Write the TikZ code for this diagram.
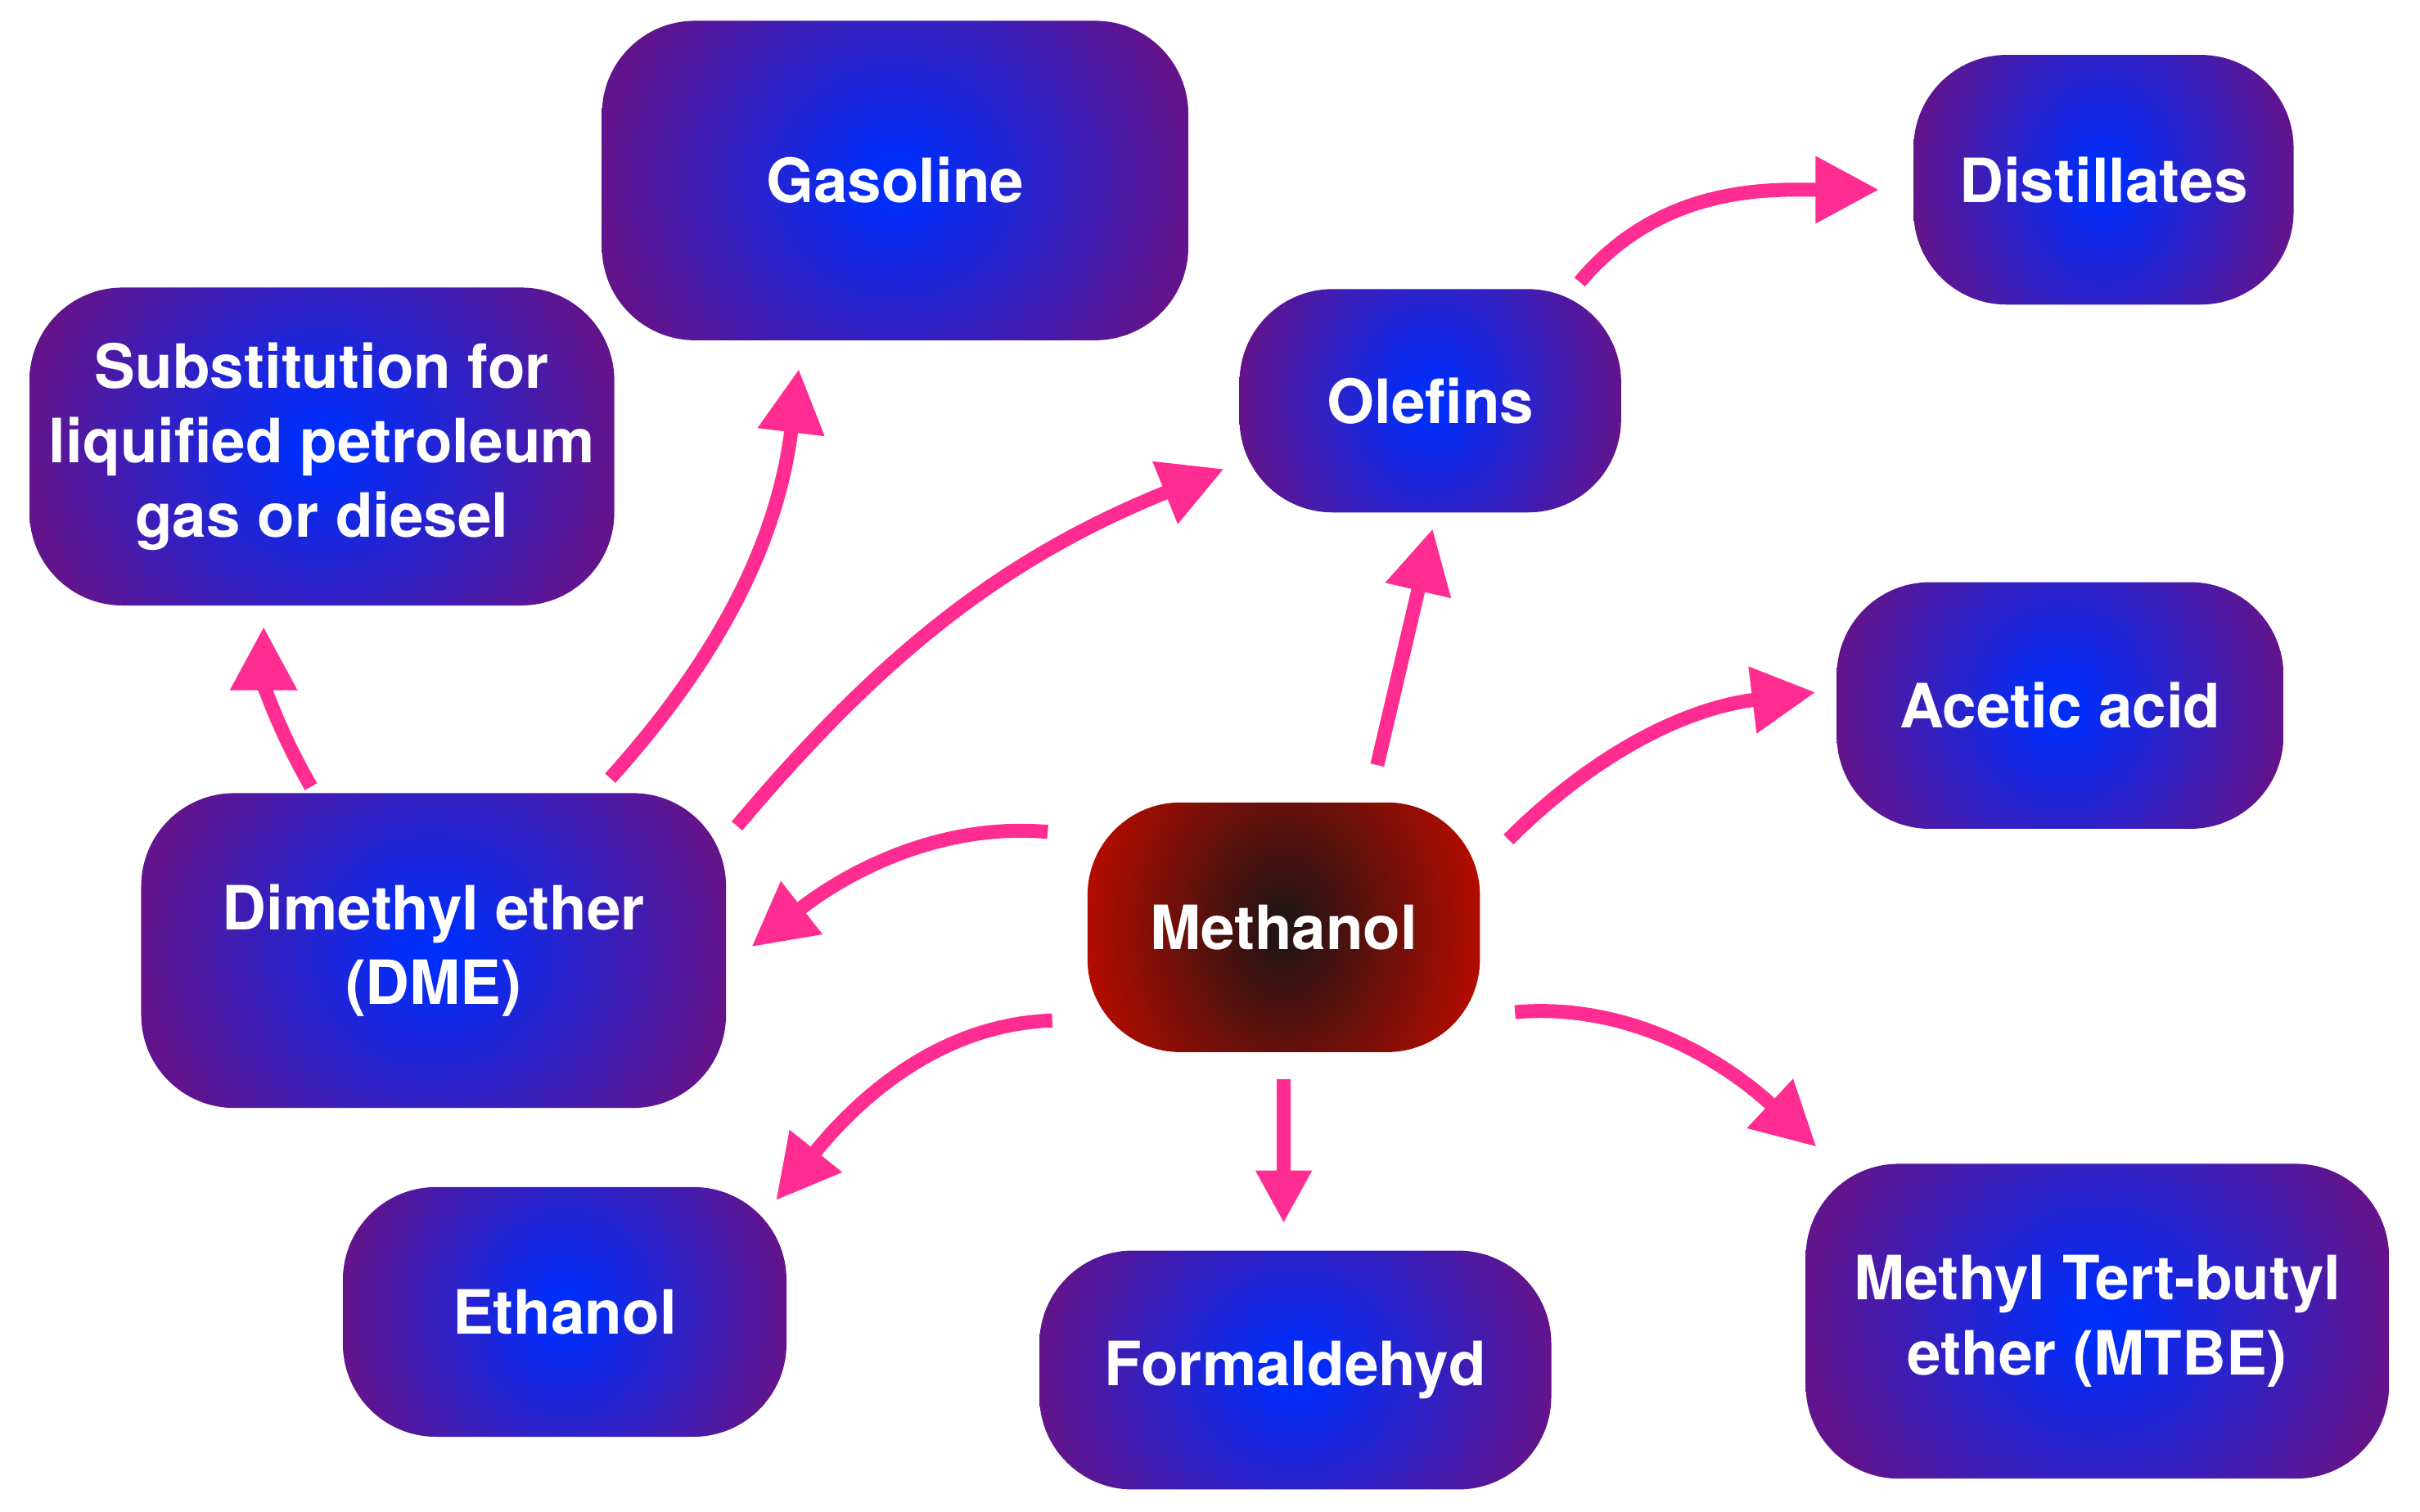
\documentclass[tikz,border=0pt]{standalone}
\usepackage{fontspec}
\newfontfamily\heros{TeX Gyre Heros}
\usetikzlibrary{arrows.meta}

\definecolor{boxin}{RGB}{0,45,250}
\definecolor{boxout}{RGB}{98,20,140}
\definecolor{methin}{RGB}{38,20,20}
\definecolor{methout}{RGB}{178,12,0}
\definecolor{flowpink}{RGB}{255,45,145}

\pgfdeclareradialshading{blueglow}{\pgfpoint{0bp}{0bp}}{color(0bp)=(boxin); color(2bp)=(boxin); color(25bp)=(boxout); color(50bp)=(boxout)}
\pgfdeclareradialshading{redglow}{\pgfpoint{0bp}{0bp}}{color(0bp)=(methin); color(2bp)=(methin); color(25bp)=(methout); color(50bp)=(methout)}

\tikzset{
  prod/.style={rounded corners=0.6cm, align=center, text=white, inner sep=0pt,
    font=\heros\bfseries\fontsize{11.2}{13.7}\selectfont,
    path picture={\shade[shading=#1] ([yshift=-0.8cm]path picture bounding box.south west) rectangle ([yshift=0.8cm]path picture bounding box.north east);}},
  prod/.default=blueglow,
  flow/.style={color=flowpink, line width=0.09cm, -{Triangle[length=#1,width=#1]}},
  flow/.default=0.41cm
}

\begin{document}
\begin{tikzpicture}
  \useasboundingbox[fill=white] (0,0) rectangle (15.6,9.744);

  \node[prod, minimum width=3.78cm, minimum height=2.06cm](gas) at (5.77,8.58){Gasoline};
  \node[prod, minimum width=2.45cm, minimum height=1.61cm](dist) at (13.56,8.585){Distillates};
  \node[prod, minimum width=3.77cm, minimum height=2.05cm](subst) at (2.075,6.865){Substitution for\\liquified petroleum\\gas or diesel};
  \node[prod, minimum width=2.46cm, minimum height=1.44cm](olef) at (9.22,7.16){Olefins};
  \node[prod, minimum width=2.88cm, minimum height=1.59cm](acet) at (13.28,5.195){Acetic acid};
  \node[prod, minimum width=3.77cm, minimum height=2.03cm](dme) at (2.795,3.615){Dimethyl ether\\(DME)};
  \node[prod=redglow, minimum width=2.53cm, minimum height=1.61cm](meth) at (8.275,3.765){Methanol};
  \node[prod, minimum width=2.86cm, minimum height=1.61cm](eth) at (3.64,1.285){Ethanol};
  \node[prod, minimum width=3.30cm, minimum height=1.54cm](form) at (8.35,0.91){Formaldehyd};
  \node[prod, minimum width=3.76cm, minimum height=2.03cm](mtbe) at (13.52,1.225){Methyl Tert-butyl\\ether (MTBE)};

  \path[flow]
  (dme.127)    edge [out=120, in=-90, shorten <=0.04cm, shorten >=0.13cm]  (subst.250)
  (dme.44)     edge [out=48, in=-97, shorten <=0.12cm, shorten >=0.18cm]  (gas.240)
  (dme.21)     edge [out=50, in=202, shorten <=0.1cm, shorten >=0.1cm]  (olef.198)
  (meth.155)   edge [out=175, in=38, shorten <=0.25cm, shorten >=0.2cm]  (dme.357)
  (meth.56)    edge [shorten <=0.24cm, shorten >=0.1cm]  (olef.273)
  (olef.38)    edge [out=50, in=180, shorten <=0.05cm, shorten >=0.215cm]  (dist.183)
  (meth.17)    edge [out=45, in=187, shorten <=0.25cm, shorten >=0.13cm]  (acet.176)
  (meth.336)   edge [out=5, in=137, shorten <=0.22cm, shorten >=0.15cm]  (mtbe.149)
  (meth.205)   edge [out=182, in=51, shorten <=0.22cm, shorten >=-0.12cm]  (eth.north east);

  \path[flow=0.34cm]
  (meth.south) edge [shorten <=0.17cm, shorten >=0.17cm]  (meth.south |- form.north);
\end{tikzpicture}
\end{document}
